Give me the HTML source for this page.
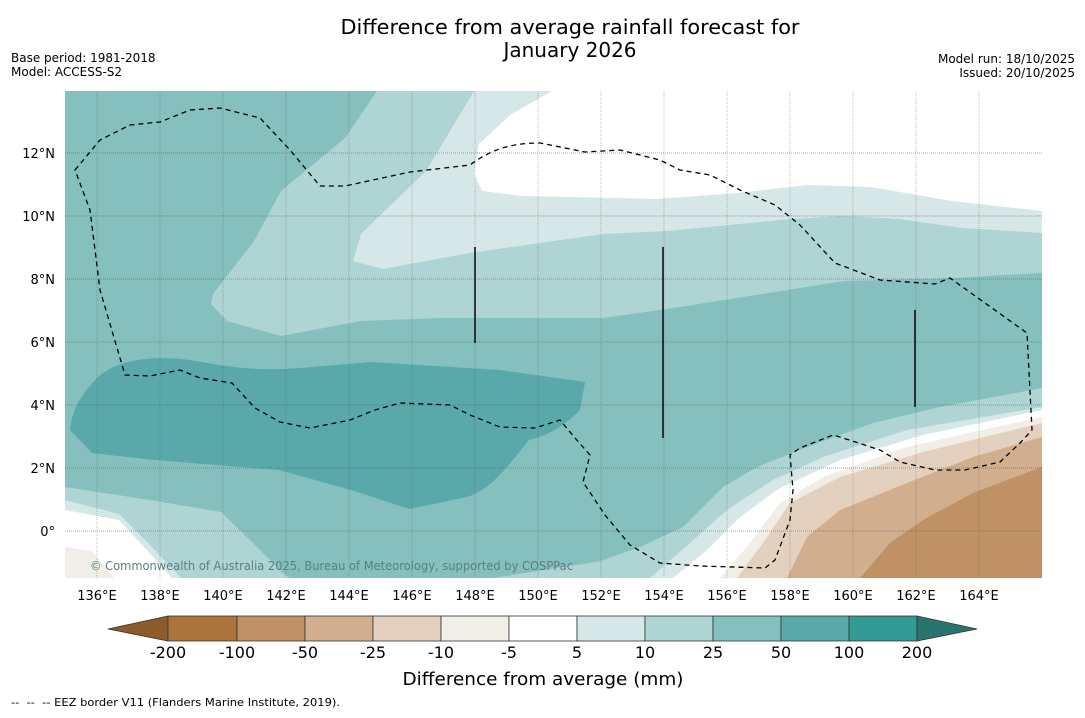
<!DOCTYPE html>
<html><head><meta charset="utf-8"><style>
body{margin:0;width:1085px;height:713px;background:#fff;font-family:"Liberation Sans","DejaVu Sans",sans-serif;overflow:hidden}
svg text{font-family:"DejaVu Sans","Liberation Sans",sans-serif}
</style></head><body>
<svg width="1085" height="713">
<text x="570" y="34" font-size="20" text-anchor="middle" textLength="459" lengthAdjust="spacingAndGlyphs">Difference from average rainfall forecast for</text>
<text x="570" y="57" font-size="20" text-anchor="middle">January 2026</text>
<text x="11" y="62" font-size="12">Base period: 1981-2018</text>
<text x="11" y="76" font-size="12">Model: ACCESS-S2</text>
<text x="1075" y="63" font-size="12" text-anchor="end">Model run: 18/10/2025</text>
<text x="1075" y="77" font-size="12" text-anchor="end">Issued: 20/10/2025</text>
<defs><clipPath id="mc"><rect x="65" y="91" width="977" height="487"/></clipPath></defs>
<g clip-path="url(#mc)">
<rect x="65" y="91" width="977" height="487" fill="#85c0bf"/>
<path d="M377,91 L345,138 L281,191 L254,241 L213,294 L211,304 L227,321 L281,336 L361,321 L442,318 L603,318 L667,309 L737,298 L844,281 L952,278 L1042,273 L1042,91Z" fill="#aed4d4"/>
<path d="M474,91 L426,171 L361,234 L353,261 L383,269 L469,253 L603,234 L667,231 L791,219 L844,216 L898,219 L963,228 L1042,233 L1042,91Z" fill="#d5e8e7"/>
<path d="M552,91 L510,115 L479,144 L474,174 L482,191 L522,196 L656,199 L737,193 L807,185 L871,187 L952,201 L1042,211 L1042,91Z" fill="#ffffff"/>
<path d="M70,430 C72,410 80,395 100,375 C120,360 150,355 190,360 C220,365 250,372 300,368 L370,362 L500,370 L585,382 L580,410 C565,425 550,435 529,440 C505,470 490,490 467,497 L409,509 L351,490 L279,470 L154,460 L92,453 Z" fill="#5aa9aa"/>
<path d="M65,487 L150,500 L221,512 L250,540 L284,574 L290,578 L65,578Z" fill="#aed4d4"/>
<path d="M65,500 L119,514 L150,545 L181,578 L65,578Z" fill="#d5e8e7"/>
<path d="M65,510 L119,520 L145,548 L172,578 L65,578Z" fill="#ffffff"/>
<path d="M65,547 L92,551 L114,578 L65,578Z" fill="#f1ede7"/>
<path d="M494,578 L601,561 L640,547 L683,527 L723,487 L757,467 L807,447 L873,423 L940,407 L1042,388 L1042,578Z" fill="#aed4d4"/>
<path d="M650,578 L690,543 L727,510 L773,480 L823,457 L907,430 L1042,407 L1042,578Z" fill="#d5e8e7"/>
<path d="M673,578 L707,550 L740,517 L780,488 L840,460 L923,435 L1042,410 L1042,578Z" fill="#ffffff"/>
<path d="M720,578 L750,543 L780,503 L823,477 L907,447 L1042,417 L1042,578Z" fill="#f1ede7"/>
<path d="M737,578 L763,543 L790,503 L840,477 L923,452 L1042,423 L1042,578Z" fill="#e4d0be"/>
<path d="M787,578 L807,537 L840,510 L907,483 L973,457 L1042,437 L1042,578Z" fill="#d1ae8e"/>
<path d="M860,578 L890,543 L923,520 L973,493 L1042,467 L1042,578Z" fill="#bf9165"/>
<g stroke="#555" stroke-width="0.6" stroke-dasharray="1,1" opacity="0.6">
<line x1="97" y1="91" x2="97" y2="578"/><line x1="160" y1="91" x2="160" y2="578"/><line x1="223" y1="91" x2="223" y2="578"/><line x1="286" y1="91" x2="286" y2="578"/><line x1="349" y1="91" x2="349" y2="578"/><line x1="412" y1="91" x2="412" y2="578"/><line x1="475" y1="91" x2="475" y2="578"/><line x1="538" y1="91" x2="538" y2="578"/><line x1="601" y1="91" x2="601" y2="578"/><line x1="664" y1="91" x2="664" y2="578"/><line x1="727" y1="91" x2="727" y2="578"/><line x1="790" y1="91" x2="790" y2="578"/><line x1="853" y1="91" x2="853" y2="578"/><line x1="916" y1="91" x2="916" y2="578"/><line x1="979" y1="91" x2="979" y2="578"/>
</g>
<g stroke="#555" stroke-width="0.7" stroke-dasharray="1,1" opacity="0.7">
<line x1="65" y1="153" x2="1042" y2="153"/><line x1="65" y1="216" x2="1042" y2="216"/><line x1="65" y1="279" x2="1042" y2="279"/><line x1="65" y1="342" x2="1042" y2="342"/><line x1="65" y1="405" x2="1042" y2="405"/><line x1="65" y1="468" x2="1042" y2="468"/><line x1="65" y1="531" x2="1042" y2="531"/>
</g>
<path d="M75,170 L100,140 L130,125 L160,122 L190,110 L220,108 L260,118 L290,150 L320,186 L345,186 L410,172 L470,165 C490,150 510,143 540,143 L585,152 L620,150 L660,160 L680,170 L710,175 L740,190 L775,205 L800,225 L835,263 L880,280 L935,284 L950,278 L1027,333 L1032,430 L1020,443 L1000,462 L965,470 L935,470 L900,462 L880,450 L840,437 L833,435 L800,448 L790,455 L793,490 L790,520 L775,560 L765,568 L700,566 L660,563 L630,545 L605,515 L583,482 L590,455 L575,438 L560,420 L535,428 L500,427 L470,415 L450,405 L400,403 L375,410 L350,420 L310,428 L280,422 L255,408 L232,383 L200,378 L180,370 L150,376 L125,375 L100,290 L90,210 Z" fill="none" stroke="#000" stroke-width="1.3" stroke-dasharray="5,4"/>
<g stroke="#111" stroke-width="1.6">
<line x1="475" y1="247" x2="475" y2="343"/><line x1="663" y1="247" x2="663" y2="438"/><line x1="915" y1="310" x2="915" y2="407"/>
</g>
<text x="90" y="570" font-size="12" fill="#5a7f7e" textLength="483" lengthAdjust="spacingAndGlyphs">© Commonwealth of Australia 2025, Bureau of Meteorology, supported by COSPPac</text>
</g>
<g font-size="13">
<text x="55" y="158" text-anchor="end">12°N</text><text x="55" y="221" text-anchor="end">10°N</text><text x="55" y="284" text-anchor="end">8°N</text><text x="55" y="347" text-anchor="end">6°N</text><text x="55" y="410" text-anchor="end">4°N</text><text x="55" y="473" text-anchor="end">2°N</text><text x="55" y="536" text-anchor="end">0°</text>
</g>
<g font-size="13" text-anchor="middle">
<text x="97" y="600">136°E</text><text x="160" y="600">138°E</text><text x="223" y="600">140°E</text><text x="286" y="600">142°E</text><text x="349" y="600">144°E</text><text x="412" y="600">146°E</text><text x="475" y="600">148°E</text><text x="538" y="600">150°E</text><text x="601" y="600">152°E</text><text x="664" y="600">154°E</text><text x="727" y="600">156°E</text><text x="790" y="600">158°E</text><text x="853" y="600">160°E</text><text x="916" y="600">162°E</text><text x="979" y="600">164°E</text>
</g>
<g stroke="#333" stroke-width="0.8">
<polygon points="108,629 168,616 168,641" fill="#8d5b2a"/>
<rect x="168" y="616" width="69" height="25" fill="#ab743c"/>
<rect x="237" y="616" width="68" height="25" fill="#bf9165"/>
<rect x="305" y="616" width="68" height="25" fill="#d1ae8e"/>
<rect x="373" y="616" width="68" height="25" fill="#e4d0be"/>
<rect x="441" y="616" width="68" height="25" fill="#f1ede7"/>
<rect x="509" y="616" width="68" height="25" fill="#ffffff"/>
<rect x="577" y="616" width="68" height="25" fill="#d5e8e7"/>
<rect x="645" y="616" width="68" height="25" fill="#aed4d4"/>
<rect x="713" y="616" width="68" height="25" fill="#85c0bf"/>
<rect x="781" y="616" width="68" height="25" fill="#5aa9aa"/>
<rect x="849" y="616" width="68" height="25" fill="#349a96"/>
<polygon points="917,616 977,629 917,641" fill="#2a7470"/>
</g>
<g font-size="16" text-anchor="middle">
<text x="168" y="658">-200</text><text x="237" y="658">-100</text><text x="305" y="658">-50</text><text x="373" y="658">-25</text><text x="441" y="658">-10</text><text x="509" y="658">-5</text><text x="577" y="658">5</text><text x="645" y="658">10</text><text x="713" y="658">25</text><text x="781" y="658">50</text><text x="849" y="658">100</text><text x="917" y="658">200</text>
</g>
<text x="543" y="685" font-size="18" text-anchor="middle" textLength="281" lengthAdjust="spacingAndGlyphs">Difference from average (mm)</text>
<text x="11" y="706" font-size="11" textLength="329" lengthAdjust="spacingAndGlyphs" xml:space="preserve">--  --  -- EEZ border V11 (Flanders Marine Institute, 2019).</text>
</svg>
</body></html>
